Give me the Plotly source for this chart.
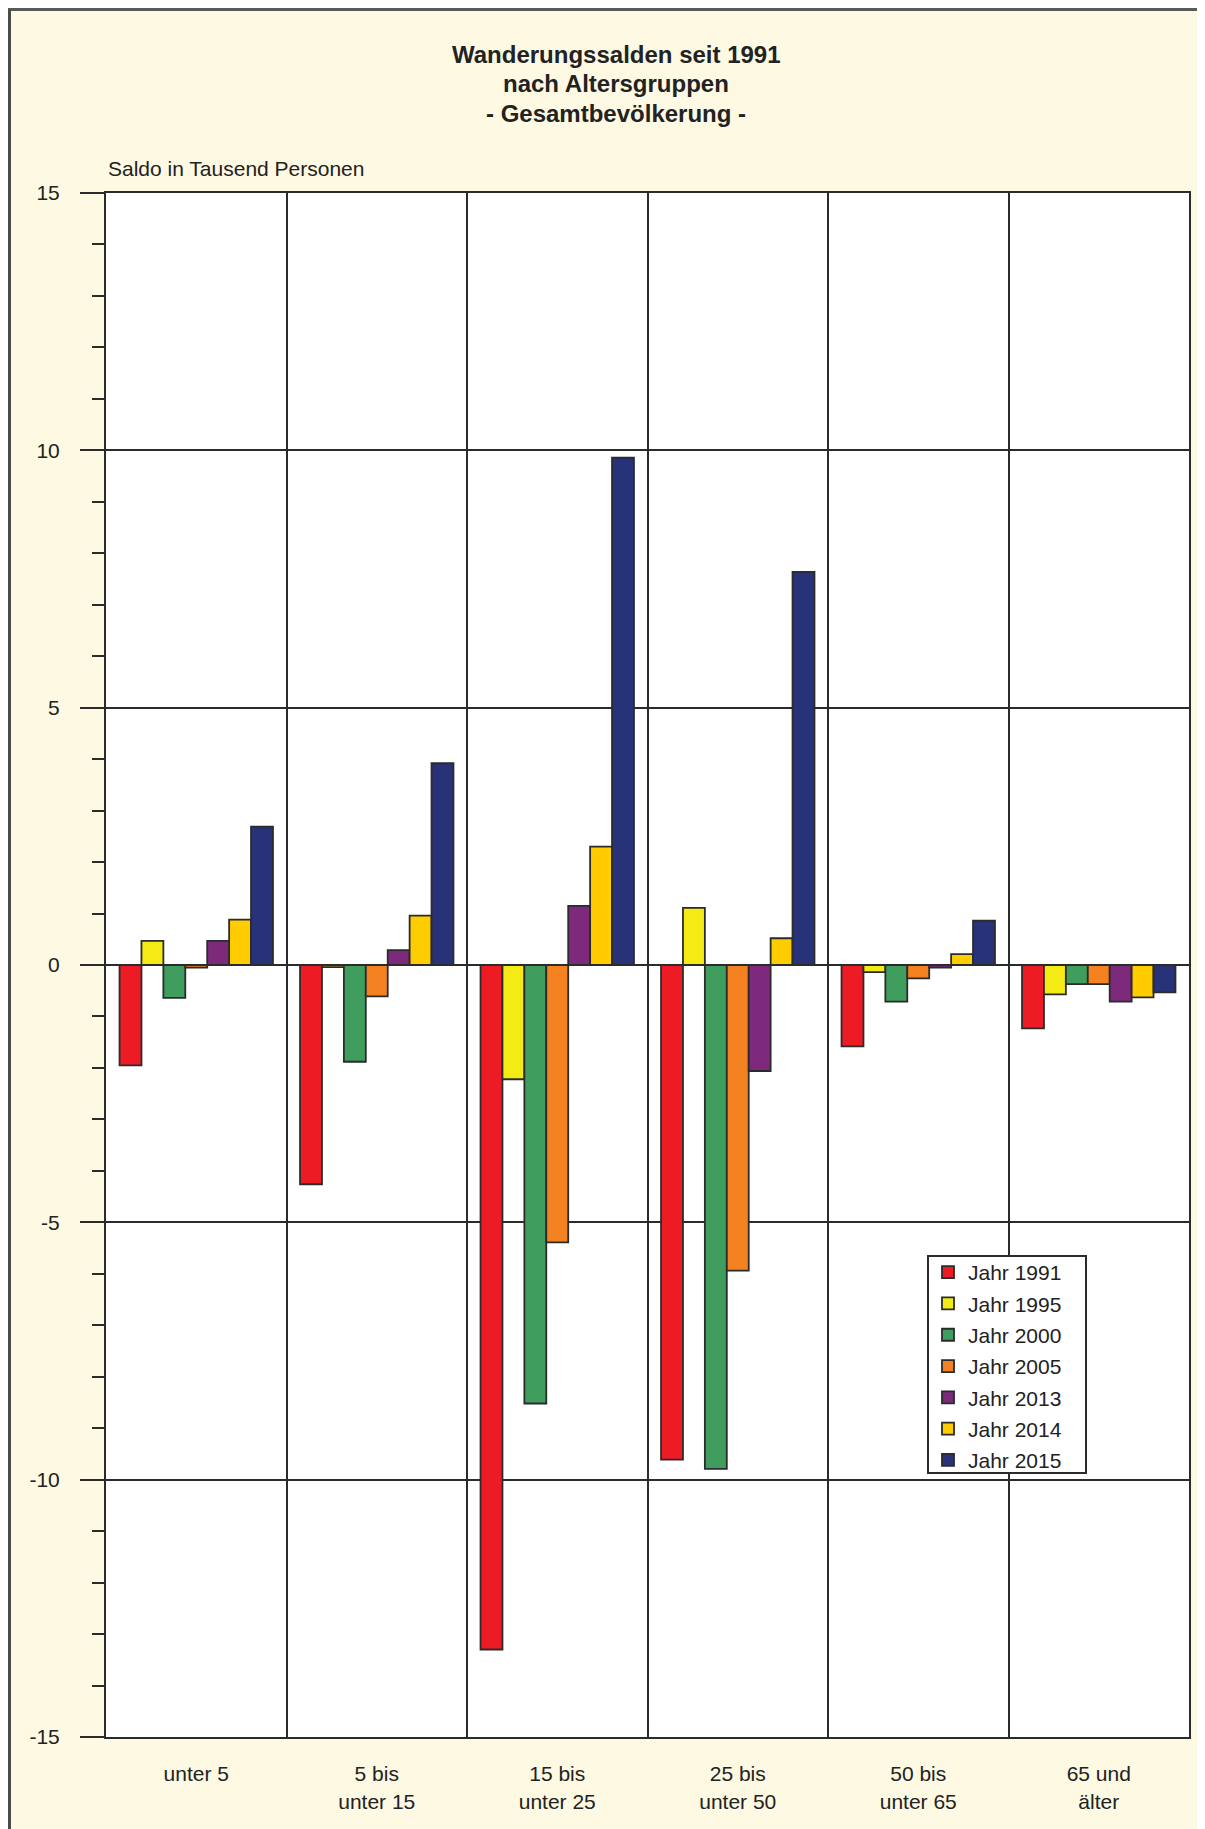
import plotly.graph_objects as go

categories = ["unter 5", "5 bis<br>unter 15", "15 bis<br>unter 25", "25 bis<br>unter 50", "50 bis<br>unter 65", "65 und<br>älter"]
years = ["Jahr 1991", "Jahr 1995", "Jahr 2000", "Jahr 2005", "Jahr 2013", "Jahr 2014", "Jahr 2015"]

v1991 = [-1.95, -4.26, -13.30, -9.61, -1.58, -1.23]
v1995 = [0.47, -0.04, -2.22, 1.11, -0.14, -0.57]
v2000 = [-0.64, -1.88, -8.52, -9.79, -0.71, -0.37]
v2005 = [-0.05, -0.61, -5.39, -5.94, -0.26, -0.37]
v2013 = [0.47, 0.29, 1.15, -2.06, -0.05, -0.71]
v2014 = [0.88, 0.96, 2.30, 0.52, 0.21, -0.63]
v2015 = [2.69, 3.92, 9.86, 7.64, 0.86, -0.53]

series = [v1991, v1995, v2000, v2005, v2013, v2014, v2015]
colors = ["#ED1C24", "#F5EB14", "#3F9E5E", "#F58220", "#7D2A7D", "#FFCC00", "#283278"]

y_tickvals = [15, 10, 5, 0, -5, -10, -15]
y_ticktext = ["15", "10", "5", "0", "-5", "-10", "-15"]

FONT = "Liberation Sans, Arial, sans-serif"
LINE = "#2b2b2b"
TXT = "#222"

fig = go.Figure()
for name, vals, col in zip(years, series, colors):
    fig.add_trace(go.Bar(
        x=categories, y=vals, name=name, legendgroup=name,
        marker=dict(color=col, line=dict(color=LINE, width=1.8)),
    ))

# page body has an 8px margin; figure is placed at (8, 8) on the page
OFF = 8
W, H = 1205 - OFF, 1829 - OFF
L, R, T, B = 106 - OFF, 16, 193 - OFF, 92
pw, ph = W - L - R, H - T - B


def px(x):  # reference page x -> paper
    return (x - OFF - L) / pw


def py(y):  # reference page y -> paper
    return (H - B - (y - OFF)) / ph


anns = []
for txt, yy in [("<b>Wanderungssalden seit 1991</b>", 55),
                ("<b>nach Altersgruppen</b>", 84),
                ("<b>- Gesamtbevölkerung -</b>", 113)]:
    anns.append(dict(text=txt, x=px(616), y=py(yy), xref="paper", yref="paper",
                     xanchor="center", yanchor="middle", showarrow=False,
                     font=dict(family=FONT, size=24, color=TXT)))
anns.append(dict(text="Saldo in Tausend Personen", x=px(106), y=py(169), xref="paper", yref="paper",
                 xanchor="left", yanchor="middle", showarrow=False,
                 font=dict(family=FONT, size=21, color=TXT)))

shapes = [
    dict(type="line", xref="paper", yref="paper", x0=px(0), x1=px(1300), y0=py(9.5), y1=py(9.5),
         line=dict(color="#5a5a5a", width=3)),
    dict(type="line", xref="paper", yref="paper", x0=px(9.5), x1=px(9.5), y0=py(9.5), y1=py(1900),
         line=dict(color="#4a4a4a", width=3)),
    # legend frame
    dict(type="rect", xref="paper", yref="paper", layer="above",
         x0=px(928), x1=px(1086), y0=py(1256), y1=py(1473),
         fillcolor="white", line=dict(color=LINE, width=2)),
]

fig.update_layout(
    width=W, height=H,
    margin=dict(l=L, r=R, t=T, b=B, autoexpand=False),
    paper_bgcolor="#FDF9E2",
    plot_bgcolor="white",
    barmode="group",
    bargap=0.15,
    bargroupgap=0,
    font=dict(family=FONT, size=21, color=TXT),
    annotations=anns,
    shapes=shapes,
    showlegend=True,
    legend=dict(
        x=px(928), y=py(1252), xanchor="left", yanchor="top",
        bgcolor="rgba(0,0,0,0)", borderwidth=0,
        font=dict(family=FONT, size=21, color=TXT),
        tracegroupgap=1, traceorder="grouped",
    ),
    xaxis=dict(
        type="category", showgrid=True, gridcolor=LINE, gridwidth=1.5,
        tickson="boundaries", ticks="", showline=True, linecolor=LINE, linewidth=2, mirror=True,
        tickfont=dict(family=FONT, size=21, color=TXT), ticklabelstandoff=17,
        zeroline=False,
    ),
    yaxis=dict(
        range=[-15, 15], tickmode="array", tickvals=y_tickvals, ticktext=y_ticktext,
        ticks="outside", ticklen=24, tickwidth=2, tickcolor=LINE,
        showgrid=True, gridcolor=LINE, gridwidth=1.5,
        showline=True, linecolor=LINE, linewidth=2, mirror=True,
        zeroline=True, zerolinecolor=LINE, zerolinewidth=1.5,
        tickfont=dict(family=FONT, size=21, color=TXT), ticklabelstandoff=16,
        minor=dict(tickmode="linear", tick0=0, dtick=1, ticks="outside", ticklen=12,
                   tickwidth=1.5, tickcolor=LINE, showgrid=False),
    ),
)

fig.write_html("out.html")
